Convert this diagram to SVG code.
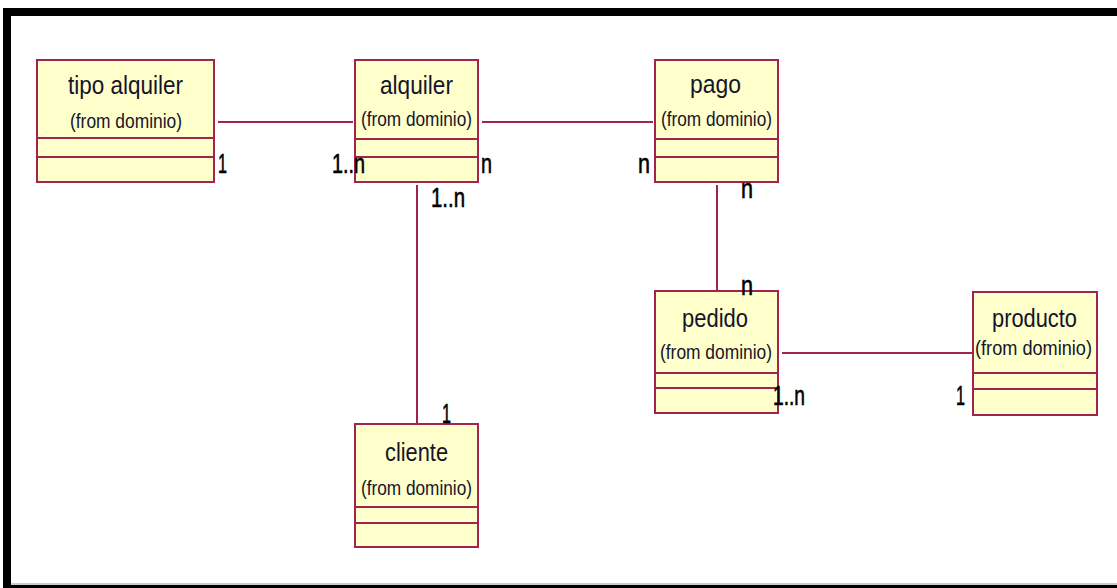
<svg xmlns="http://www.w3.org/2000/svg" width="1117" height="588" viewBox="0 0 1117 588">
<style>
.box{fill:#ffffcc;stroke:#a3234f;stroke-width:2}
.sep{stroke:#a3234f;stroke-width:2}
.conn{stroke:#a3234f;stroke-width:2;fill:none}
.name{font-family:"Liberation Sans",Arial,sans-serif;font-size:25px;fill:#14142a}
.from{font-family:"Liberation Sans",Arial,sans-serif;font-size:20px;fill:#14142a}
.lbl{font-family:"Liberation Sans",Arial,sans-serif;font-size:28px;fill:#000;stroke:#000;stroke-width:0.6}
</style>
<rect x="0" y="0" width="1117" height="588" fill="#ffffff"/>
<rect x="3" y="8" width="1114" height="8" fill="#000"/>
<rect x="3" y="8" width="8" height="580" fill="#000"/>
<rect x="3" y="585" width="1114" height="3" fill="#000"/>
<line x1="11" y1="584" x2="1117" y2="584" stroke="#999" stroke-width="1"/>

<g id="tipo-alquiler">
<rect class="box" x="37" y="60" width="177" height="122"/>
<line class="sep" x1="37" y1="138" x2="214" y2="138"/>
<line class="sep" x1="37" y1="157" x2="214" y2="157"/>
<text class="name" x="68" y="94" textLength="115" lengthAdjust="spacingAndGlyphs">tipo alquiler</text>
<text class="from" x="70" y="128" textLength="112" lengthAdjust="spacingAndGlyphs">(from dominio)</text>
</g>

<g id="alquiler">
<rect class="box" x="355" y="60" width="123" height="122"/>
<line class="sep" x1="355" y1="139" x2="478" y2="139"/>
<line class="sep" x1="355" y1="157" x2="478" y2="157"/>
<text class="name" x="380" y="94" textLength="73" lengthAdjust="spacingAndGlyphs">alquiler</text>
<text class="from" x="361" y="126" textLength="111" lengthAdjust="spacingAndGlyphs">(from dominio)</text>
</g>

<g id="pago">
<rect class="box" x="655" y="60" width="123" height="122"/>
<line class="sep" x1="655" y1="139" x2="778" y2="139"/>
<line class="sep" x1="655" y1="157" x2="778" y2="157"/>
<text class="name" x="690" y="93" textLength="51" lengthAdjust="spacingAndGlyphs">pago</text>
<text class="from" x="661" y="126" textLength="111" lengthAdjust="spacingAndGlyphs">(from dominio)</text>
</g>

<g id="pedido">
<rect class="box" x="655" y="291" width="123" height="122"/>
<line class="sep" x1="655" y1="373" x2="778" y2="373"/>
<line class="sep" x1="655" y1="388" x2="778" y2="388"/>
<text class="name" x="682" y="327" textLength="66" lengthAdjust="spacingAndGlyphs">pedido</text>
<text class="from" x="660" y="359" textLength="112" lengthAdjust="spacingAndGlyphs">(from dominio)</text>
</g>

<g id="producto">
<rect class="box" x="973" y="292" width="124" height="123"/>
<line class="sep" x1="973" y1="373" x2="1097" y2="373"/>
<line class="sep" x1="973" y1="389" x2="1097" y2="389"/>
<text class="name" x="992" y="327" textLength="85" lengthAdjust="spacingAndGlyphs">producto</text>
<text class="from" x="975" y="355" textLength="117" lengthAdjust="spacingAndGlyphs">(from dominio)</text>
</g>

<g id="cliente">
<rect class="box" x="355" y="424" width="123" height="123"/>
<line class="sep" x1="355" y1="507" x2="478" y2="507"/>
<line class="sep" x1="355" y1="523" x2="478" y2="523"/>
<text class="name" x="385" y="461" textLength="63" lengthAdjust="spacingAndGlyphs">cliente</text>
<text class="from" x="361" y="495" textLength="111" lengthAdjust="spacingAndGlyphs">(from dominio)</text>
</g>

<g id="connectors">
<line class="conn" x1="218" y1="122" x2="353" y2="122"/>
<line class="conn" x1="482" y1="122" x2="653" y2="122"/>
<line class="conn" x1="417" y1="185" x2="417" y2="424"/>
<line class="conn" x1="717" y1="185" x2="717" y2="291"/>
<line class="conn" x1="782" y1="353" x2="972" y2="353"/>
<text class="lbl" x="218" y="173" textLength="9" lengthAdjust="spacingAndGlyphs">1</text>
<text class="lbl" x="332" y="173" textLength="33" lengthAdjust="spacingAndGlyphs">1..n</text>
<text class="lbl" x="481" y="173" textLength="11" lengthAdjust="spacingAndGlyphs">n</text>
<text class="lbl" x="431" y="207" textLength="34" lengthAdjust="spacingAndGlyphs">1..n</text>
<text class="lbl" x="638" y="173" textLength="12" lengthAdjust="spacingAndGlyphs">n</text>
<text class="lbl" x="741" y="198" textLength="12" lengthAdjust="spacingAndGlyphs">n</text>
<text class="lbl" x="741" y="295" textLength="12" lengthAdjust="spacingAndGlyphs">n</text>
<text class="lbl" x="773" y="405" textLength="32" lengthAdjust="spacingAndGlyphs">1..n</text>
<text class="lbl" x="956" y="405" textLength="9" lengthAdjust="spacingAndGlyphs">1</text>
<text class="lbl" x="442" y="423" textLength="9" lengthAdjust="spacingAndGlyphs">1</text>
</g>
</svg>
